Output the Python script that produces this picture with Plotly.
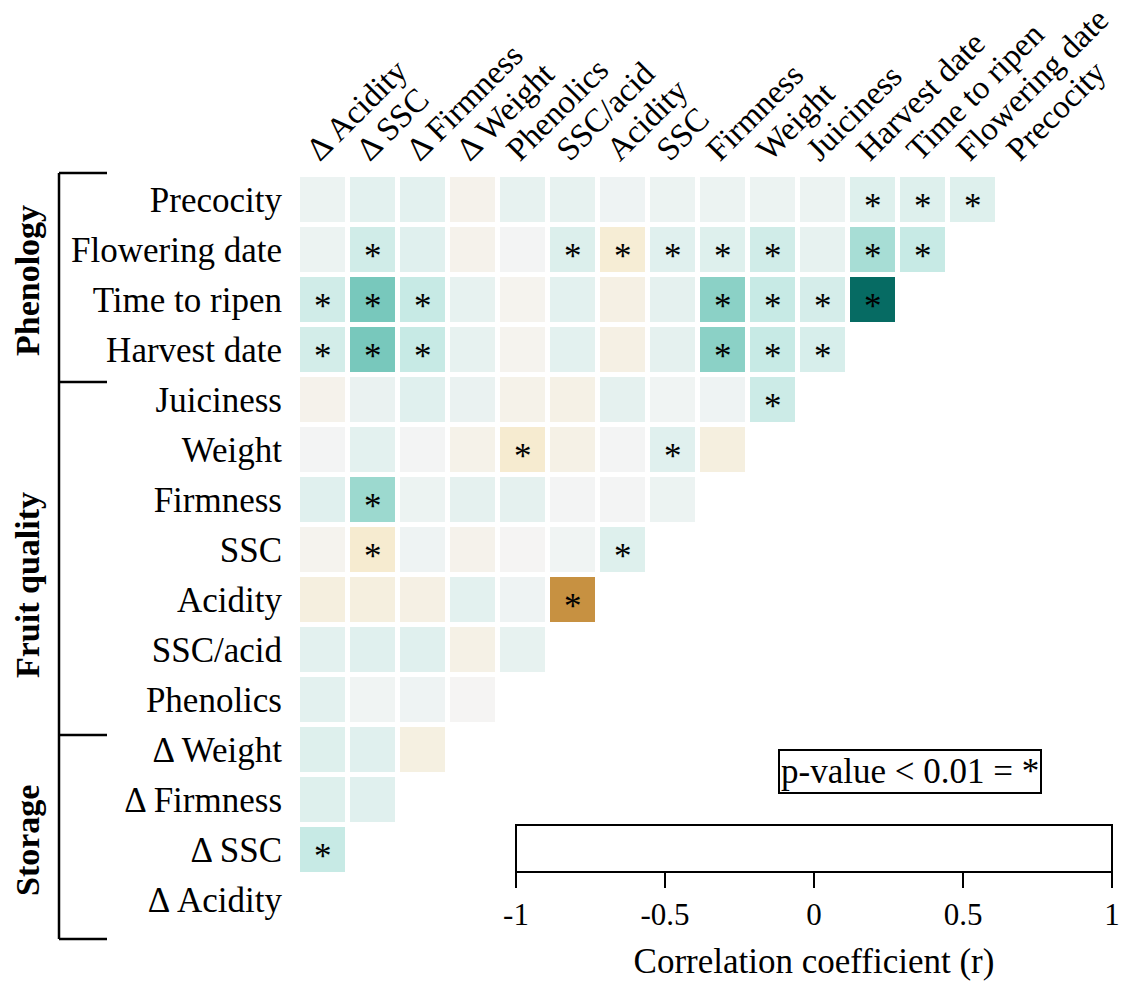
import plotly.graph_objects as go

# ---------------- data ----------------
row_labels = ["Precocity", "Flowering date", "Time to ripen", "Harvest date",
              "Juiciness", "Weight", "Firmness", "SSC", "Acidity", "SSC/acid",
              "Phenolics", "Δ Weight", "Δ Firmness", "Δ SSC", "Δ Acidity"]
col_labels = row_labels[::-1]

groups = ["Phenology", "Fruit quality", "Storage"]

# r of each row variable with columns Δ Acidity, Δ SSC, Δ Firmness, ... (left to right)
r_precocity   = [0.04, 0.08, 0.08, -0.04, 0.06, 0.06, 0.03, 0.04, 0.04, 0.04, 0.04, 0.10, 0.10, 0.10]
r_flowering   = [0.04, 0.16, 0.09, -0.04, 0.01, 0.11, -0.13, 0.09, 0.10, 0.16, 0.06, 0.29, 0.20]
r_time_ripen  = [0.16, 0.42, 0.20, 0.06, -0.03, 0.08, -0.07, 0.07, 0.37, 0.20, 0.14, 0.78]
r_harvest     = [0.15, 0.42, 0.20, 0.06, -0.03, 0.08, -0.07, 0.07, 0.37, 0.20, 0.13]
r_juiciness   = [-0.04, 0.05, 0.09, 0.05, -0.05, -0.06, 0.07, 0.02, 0.03, 0.18]
r_weight      = [0.01, 0.08, 0.01, -0.05, -0.15, -0.06, 0.01, 0.09, -0.09]
r_firmness    = [0.09, 0.32, 0.04, 0.07, 0.07, 0.01, 0.01, 0.04]
r_ssc         = [-0.03, -0.15, 0.03, -0.04, -0.01, 0.02, 0.10]
r_acidity     = [-0.09, -0.09, -0.07, 0.08, 0.03, -0.55]
r_ssc_acid    = [0.08, 0.09, 0.09, -0.06, 0.06]
r_phenolics   = [0.08, 0.02, 0.03, -0.01]
r_d_weight    = [0.10, 0.09, -0.08]
r_d_firmness  = [0.10, 0.09]
r_d_ssc       = [0.20]
r_d_acidity   = []

# significance (p < 0.01) flags, same layout
s_precocity   = [0, 0, 0, 0, 0, 0, 0, 0, 0, 0, 0, 1, 1, 1]
s_flowering   = [0, 1, 0, 0, 0, 1, 1, 1, 1, 1, 0, 1, 1]
s_time_ripen  = [1, 1, 1, 0, 0, 0, 0, 0, 1, 1, 1, 1]
s_harvest     = [1, 1, 1, 0, 0, 0, 0, 0, 1, 1, 1]
s_juiciness   = [0, 0, 0, 0, 0, 0, 0, 0, 0, 1]
s_weight      = [0, 0, 0, 0, 1, 0, 0, 1, 0]
s_firmness    = [0, 1, 0, 0, 0, 0, 0, 0]
s_ssc         = [0, 1, 0, 0, 0, 0, 1]
s_acidity     = [0, 0, 0, 0, 0, 1]
s_ssc_acid    = [0, 0, 0, 0, 0]
s_phenolics   = [0, 0, 0, 0]
s_d_weight    = [0, 0, 0]
s_d_firmness  = [0, 0]
s_d_ssc       = [1]
s_d_acidity   = []

cbar_ticks = [-1, -0.5, 0, 0.5, 1]
cbar_ticktext = ["-1", "-0.5", "0", "0.5", "1"]

r_rows = [r_precocity, r_flowering, r_time_ripen, r_harvest, r_juiciness, r_weight,
          r_firmness, r_ssc, r_acidity, r_ssc_acid, r_phenolics, r_d_weight,
          r_d_firmness, r_d_ssc, r_d_acidity]
s_rows = [s_precocity, s_flowering, s_time_ripen, s_harvest, s_juiciness, s_weight,
          s_firmness, s_ssc, s_acidity, s_ssc_acid, s_phenolics, s_d_weight,
          s_d_firmness, s_d_ssc, s_d_acidity]

n = len(row_labels)
z = [[(r_rows[i][j] if j < len(r_rows[i]) else None) for j in range(n)] for i in range(n)]

# ---------------- layout geometry ----------------
W, H = 1136, 981
L, T, R, B = 298, 175, 16, 56
PW, PH = W - L - R, H - T - B
FONT = "Liberation Serif"
COL_LABEL_OFFSET = -0.3  # nudge rotated column labels slightly left of cell centres


def px(x):
    return (x - L) / PW


def py(y):
    return 1 - (y - T) / PH


fig = go.Figure()
fig.add_trace(go.Heatmap(
    z=z, x=list(range(n)), y=list(range(n)),
    colorscale="BrBG", zmin=-1, zmax=1, xgap=5, ygap=5,
    showscale=False, hoverongaps=False,
))

# dummy trace to carry the colour-bar axis
fig.add_trace(go.Scatter(x=[-1, 1], y=[None, None], xaxis="x2", yaxis="y",
                         mode="markers", showlegend=False, hoverinfo="skip"))

annotations = []
for i in range(n):
    for j, s in enumerate(s_rows[i]):
        if s:
            annotations.append(dict(x=j, y=i, xref="x", yref="y", text="*",
                                    showarrow=False, yshift=-6,
                                    xanchor="center", yanchor="middle",
                                    font=dict(family=FONT, size=35, color="black")))

group_centers = [281, 585, 841]
for g, yc in zip(groups, group_centers):
    annotations.append(dict(x=px(27), y=py(yc), xref="paper", yref="paper",
                            xanchor="center", yanchor="middle",
                            text="<b>%s</b>" % g, textangle=-90, showarrow=False,
                            font=dict(family=FONT, size=34, color="black")))

annotations.append(dict(x=px(909.5), y=py(771), xref="paper", yref="paper",
                        xanchor="center", yanchor="middle",
                        text="p-value < 0.01 = *", showarrow=False,
                        bordercolor="black", borderwidth=2, borderpad=1,
                        font=dict(family=FONT, size=35, color="black")))

shapes = []
bx, bx2 = 59, 107
for yb in [173, 382, 735, 939]:
    shapes.append(dict(type="line", xref="paper", yref="paper",
                       x0=px(bx), x1=px(bx2), y0=py(yb), y1=py(yb),
                       line=dict(color="black", width=2.5)))
shapes.append(dict(type="line", xref="paper", yref="paper",
                   x0=px(bx), x1=px(bx), y0=py(173), y1=py(939),
                   line=dict(color="black", width=2.5)))
shapes.append(dict(type="rect", xref="paper", yref="paper",
                   x0=px(516), x1=px(1112), y0=py(872), y1=py(825),
                   line=dict(color="black", width=2), fillcolor="white"))

fig.update_layout(
    width=W, height=H,
    margin=dict(l=L, r=R, t=T, b=B, autoexpand=False),
    paper_bgcolor="white", plot_bgcolor="rgba(0,0,0,0)",
    font=dict(family=FONT, color="black"),
    showlegend=False,
    xaxis=dict(domain=[0, 750 / PW], range=[-0.5, n - 0.5], side="top",
               tickvals=[k + COL_LABEL_OFFSET for k in range(n)], ticktext=col_labels,
               tickangle=-45,
               ticks="", showgrid=False, zeroline=False, showline=False,
               ticklabeloverflow="allow",
               tickfont=dict(family=FONT, size=33, color="black"), automargin=False),
    yaxis=dict(domain=[0, 1], range=[n - 0.5, -0.5],
               tickvals=list(range(n)), ticktext=row_labels,
               ticks="", showgrid=False, zeroline=False, showline=False,
               ticklabelstandoff=15, ticklabeloverflow="allow",
               tickfont=dict(family=FONT, size=35, color="black"), automargin=False),
    xaxis2=dict(domain=[px(516), px(1112)], anchor="free", position=py(872),
                range=[-1, 1], tickvals=cbar_ticks, ticktext=cbar_ticktext,
                ticks="outside", ticklen=15, tickwidth=2, tickcolor="black",
                showgrid=False, zeroline=False, showline=False,
                ticklabeloverflow="allow",
                tickfont=dict(family=FONT, size=31, color="black"),
                title=dict(text="Correlation coefficient (r)", standoff=18,
                           font=dict(family=FONT, size=35, color="black")),
                automargin=False),
    annotations=annotations,
    shapes=shapes,
)

fig.write_html("out.html")
